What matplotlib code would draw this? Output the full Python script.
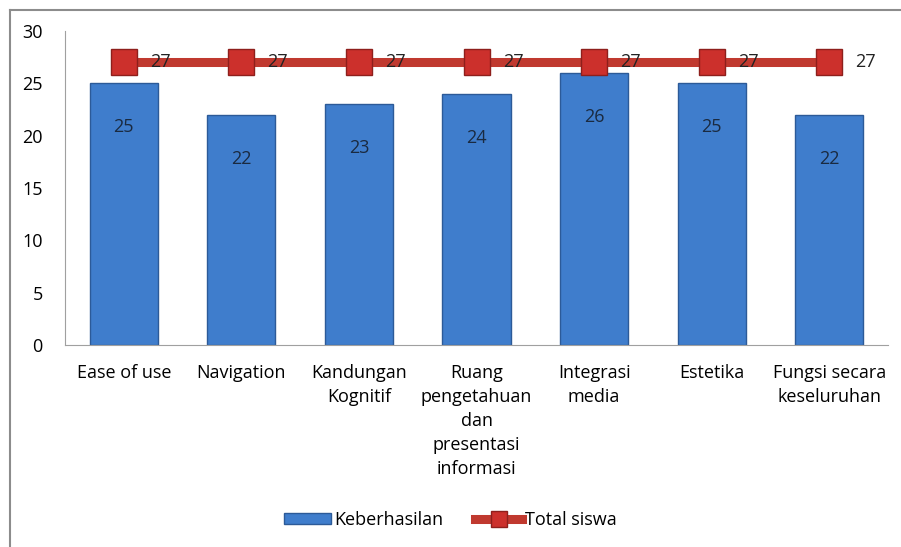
import matplotlib
matplotlib.use("Agg")
from matplotlib import pyplot as plt
from matplotlib.lines import Line2D
import numpy as np

categories = ["Ease of use", "Navigation", "Kandungan\nKognitif",
              "Ruang\npengetahuan\ndan\npresentasi\ninformasi",
              "Integrasi\nmedia", "Estetika", "Fungsi secara\nkeseluruhan"]
keberhasilan = [25, 22, 23, 24, 26, 25, 22]
total_siswa = [27, 27, 27, 27, 27, 27, 27]
yticks = [0, 5, 10, 15, 20, 25, 30]

plt.rcParams['font.family'] = ['Open Sans', 'DejaVu Sans']

fig = plt.figure(figsize=(9.01, 5.47), dpi=100)
# chart frame (only left and top edges are visible in the picture)
fig.add_artist(Line2D([10/901, 10/901], [0, 1 - 10/547], transform=fig.transFigure,
                      color='#8c8c8c', linewidth=1.5))
fig.add_artist(Line2D([10/901, 1], [1 - 10/547, 1 - 10/547], transform=fig.transFigure,
                      color='#8c8c8c', linewidth=1.5))
ax = fig.add_axes([65/901, 1 - 345/547, 823/901, 314/547])

x = np.arange(len(categories))
ax.bar(x, keberhasilan, width=0.58, color='#3f7dcc', edgecolor='#2c5a98',
       linewidth=1, label='Keberhasilan', zorder=2)
ax.plot(x, total_siswa, color='#c0392f', linewidth=6.5, marker='s', markersize=19,
        markerfacecolor='#cc302c', markeredgecolor='#8e1f1c', markeredgewidth=1,
        label='Total siswa', zorder=3)

for xi, v in zip(x, keberhasilan):
    ax.text(xi, v - 4.2, str(v), ha='center', va='center', fontsize=13, color='#1a2a40', zorder=4)
for xi, v in zip(x, total_siswa):
    ax.text(xi + 0.31, v, str(v), ha='center', va='center', fontsize=13, color='#222222', zorder=4)

ax.set_xlim(-0.5, len(categories) - 0.5)
ax.set_ylim(0, 30)
ax.set_yticks(yticks)
ax.set_xticks(x)
ax.set_xticklabels(categories, fontsize=13, linespacing=1.42)
ax.tick_params(axis='y', labelsize=13, length=0, pad=16)
ax.tick_params(axis='x', length=0, pad=14)
for s in ['top', 'right']:
    ax.spines[s].set_visible(False)
ax.spines['left'].set_color('#a0a0a0')
ax.spines['bottom'].set_color('#a0a0a0')

handles, labels = ax.get_legend_handles_labels()
order = [labels.index('Keberhasilan'), labels.index('Total siswa')]
leg = fig.legend([handles[i] for i in order], [labels[i] for i in order],
                 loc='center', bbox_to_anchor=(0.5, 1 - 520/547), ncol=2, frameon=False,
                 fontsize=13, handlelength=2.6, handleheight=0.5, columnspacing=1.8,
                 handletextpad=0.15, markerscale=0.6)

plt.savefig('out.png', dpi=100)
